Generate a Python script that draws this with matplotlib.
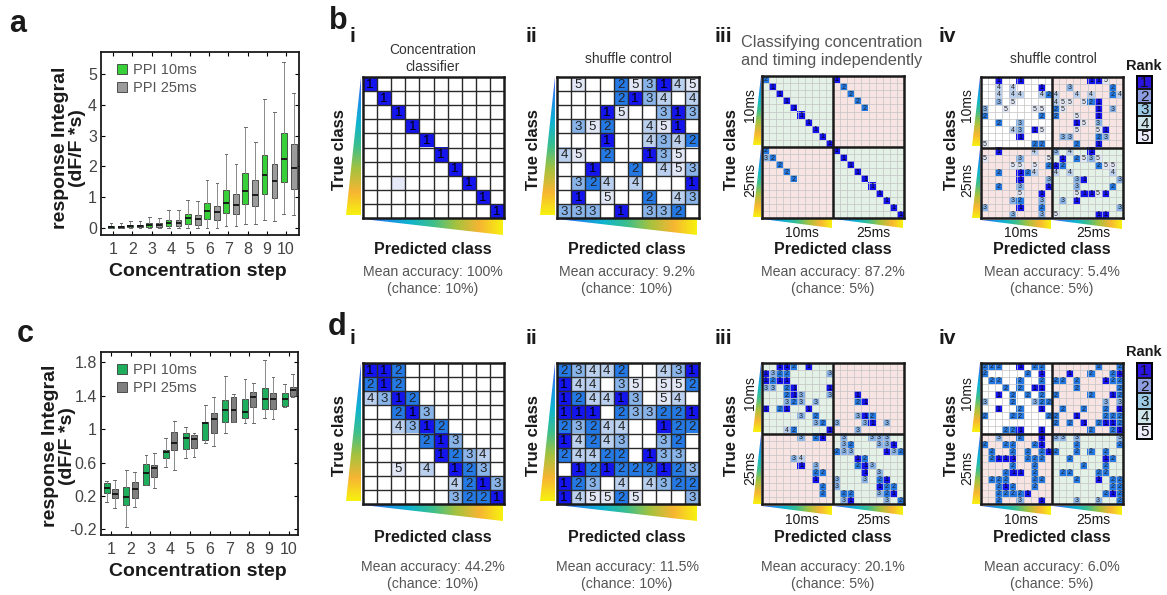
import matplotlib

matplotlib.use("Agg")

import matplotlib.pyplot as plt
import numpy as np
from matplotlib.colors import LinearSegmentedColormap, to_rgb
from matplotlib.patches import Patch, Polygon

plt.rcParams["font.family"] = ["Liberation Sans", "DejaVu Sans"]

W, H = 1167, 595
INK = "#1a1a1a"
MUTED = "#555555"

# ---- response integrals per concentration step (box stats) ----
STEPS = list(range(1, 11))

A10_MED = [0.02, 0.05, 0.08, 0.15, 0.32, 0.54, 0.81, 1.18, 1.72, 2.25]
A10_Q1 = [0.00, 0.01, 0.03, 0.05, 0.13, 0.28, 0.47, 0.77, 1.10, 1.50]
A10_Q3 = [0.05, 0.09, 0.15, 0.25, 0.45, 0.81, 1.23, 1.79, 2.36, 3.07]
A10_LO = [0.00, 0.00, 0.00, 0.00, 0.00, 0.00, 0.05, 0.12, 0.25, 0.45]
A10_HI = [0.14, 0.22, 0.34, 0.57, 0.90, 1.55, 2.40, 3.29, 4.20, 5.40]
A25_MED = [0.02, 0.05, 0.08, 0.15, 0.28, 0.50, 0.73, 1.07, 1.52, 1.93]
A25_Q1 = [0.00, 0.01, 0.03, 0.05, 0.10, 0.25, 0.45, 0.70, 0.95, 1.27]
A25_Q3 = [0.05, 0.08, 0.15, 0.25, 0.42, 0.72, 1.08, 1.55, 2.08, 2.73]
A25_LO = [0.00, 0.00, 0.00, 0.00, 0.00, 0.00, 0.05, 0.12, 0.22, 0.40]
A25_HI = [0.14, 0.22, 0.30, 0.57, 0.88, 1.45, 2.08, 2.80, 3.75, 4.40]

C10_MED = [0.30, 0.19, 0.48, 0.73, 0.90, 1.07, 1.23, 1.21, 1.36, 1.36]
C10_Q1 = [0.24, 0.09, 0.33, 0.65, 0.76, 0.87, 1.09, 1.13, 1.24, 1.28]
C10_Q3 = [0.36, 0.31, 0.58, 0.75, 0.95, 1.09, 1.35, 1.36, 1.49, 1.43]
C10_LO = [0.13, -0.17, 0.33, 0.55, 0.66, 0.83, 0.96, 1.07, 1.14, 1.26]
C10_HI = [0.38, 0.51, 0.69, 0.89, 1.03, 1.29, 1.64, 1.60, 1.83, 1.54]
C25_MED = [0.22, 0.28, 0.53, 0.83, 0.88, 1.12, 1.23, 1.38, 1.36, 1.47]
C25_Q1 = [0.18, 0.17, 0.43, 0.75, 0.77, 0.95, 1.09, 1.27, 1.24, 1.40]
C25_Q3 = [0.28, 0.37, 0.57, 0.97, 0.93, 1.19, 1.38, 1.44, 1.43, 1.51]
C25_LO = [0.05, 0.07, 0.29, 0.51, 0.67, 0.80, 1.09, 1.08, 1.12, 1.38]
C25_HI = [0.39, 0.49, 0.71, 1.10, 0.95, 1.38, 1.42, 1.55, 1.62, 1.66]

# ---- classifier rank matrices (0 = empty, 6 = faint trace without rank) ----
B1_RANKS = [
    [1, 0, 0, 0, 0, 0, 0, 0, 0, 0],
    [0, 1, 0, 0, 0, 0, 0, 0, 0, 0],
    [0, 0, 1, 0, 0, 0, 0, 0, 0, 0],
    [0, 0, 0, 1, 0, 0, 0, 0, 0, 0],
    [0, 0, 0, 0, 1, 0, 0, 0, 0, 0],
    [0, 0, 0, 0, 0, 1, 0, 0, 0, 0],
    [0, 0, 0, 0, 0, 0, 1, 0, 0, 0],
    [0, 0, 6, 0, 0, 0, 0, 1, 0, 0],
    [0, 0, 0, 0, 0, 0, 0, 0, 1, 0],
    [0, 0, 0, 0, 0, 0, 0, 0, 0, 1],
]
B2_RANKS = [
    [0, 5, 0, 0, 2, 5, 3, 1, 4, 5],
    [0, 0, 0, 0, 2, 1, 3, 4, 0, 4],
    [0, 0, 0, 1, 5, 0, 0, 3, 1, 3],
    [0, 3, 5, 2, 0, 0, 4, 5, 1, 0],
    [0, 0, 0, 1, 0, 0, 4, 3, 4, 2],
    [4, 5, 0, 2, 0, 0, 1, 3, 5, 0],
    [0, 0, 1, 0, 0, 2, 0, 4, 5, 3],
    [0, 3, 2, 4, 0, 4, 0, 0, 0, 1],
    [0, 1, 0, 5, 0, 0, 2, 0, 4, 3],
    [3, 3, 3, 0, 1, 0, 3, 3, 2, 0],
]
D1_RANKS = [
    [1, 1, 2, 0, 0, 0, 0, 0, 0, 0],
    [2, 1, 2, 0, 0, 0, 0, 0, 0, 0],
    [4, 3, 1, 2, 0, 0, 0, 0, 0, 0],
    [0, 0, 2, 1, 3, 0, 0, 0, 0, 0],
    [0, 0, 4, 3, 1, 2, 0, 0, 0, 0],
    [0, 0, 0, 0, 2, 1, 3, 0, 0, 0],
    [0, 0, 0, 0, 0, 1, 2, 3, 4, 0],
    [0, 0, 5, 0, 4, 0, 1, 2, 3, 0],
    [0, 0, 0, 0, 0, 0, 4, 2, 1, 3],
    [0, 0, 0, 0, 0, 0, 3, 2, 2, 1],
]
D2_RANKS = [
    [2, 3, 4, 4, 2, 0, 0, 4, 3, 1],
    [1, 4, 4, 0, 3, 5, 0, 5, 5, 2],
    [1, 2, 4, 4, 1, 3, 0, 5, 4, 0],
    [1, 1, 1, 0, 2, 3, 3, 2, 2, 1],
    [2, 3, 2, 4, 4, 0, 0, 1, 2, 2],
    [1, 4, 2, 4, 3, 0, 0, 3, 2, 0],
    [2, 4, 4, 2, 2, 0, 1, 3, 3, 0],
    [0, 1, 2, 1, 2, 2, 2, 1, 2, 3],
    [1, 2, 3, 0, 4, 0, 4, 3, 2, 2],
    [1, 4, 5, 5, 2, 5, 0, 0, 0, 3],
]

# 20 x 20 matrices (10ms block then 25ms block), one "col:rank" list per row
B3_ROWS = [
    "0:2 10:1", "1:1 11:2", "2:1 12:2", "3:1 13:2", "4:1 14:2",
    "5:1", "6:1", "7:1", "8:1", "9:1",
    "0:2 10:1", "0:3 1:2 11:1", "2:2 12:1", "3:2 13:1", "4:2 14:1",
    "15:1", "16:1", "17:1", "18:1", "19:1",
]
B4_ROWS = [
    "2:1 5:1 15:1 16:1 17:5",
    "2:4 4:4 8:1 12:3 18:2",
    "2:4 4:4 5:4 8:4 9:2 10:4 13:4 15:4 18:2 19:4",
    "2:3 4:5 10:4 11:5 12:5 14:5 15:2 16:1",
    "0:3 3:5 7:5 8:5 10:2 11:5 16:1 18:3",
    "0:2 8:2 10:2 13:5 16:1",
    "2:2 5:3 13:1 14:5 16:3",
    "4:4 5:3 7:1 8:5 13:5 16:5 17:1",
    "5:1 11:3 12:3 16:2 17:3",
    "0:5 7:2 8:2 13:2 16:1",
    "2:1 7:4 10:3 12:4 15:1",
    "0:5 5:3 9:5 11:1 13:2 14:5 15:3 16:5",
    "4:5 5:5 7:5 9:2 10:1 11:2 16:2 17:5 18:5",
    "2:2 5:1 6:2 7:4 10:4 12:4 18:4",
    "5:1 9:3 13:3 14:1 19:3",
    "2:2 5:3 9:1 13:3 18:2",
    "5:5 8:1 13:5 14:1 15:1 16:5 17:1",
    "4:3 5:2 8:3 11:3 13:1",
    "0:3 5:1 8:2 19:3",
    "4:3 8:3 10:5 16:1 17:1",
]
D3_ROWS = [
    "2:1 3:1 4:2 6:1",
    "0:1 1:3 2:2 3:2 9:3",
    "0:1 1:2 2:1 3:1",
    "0:3 1:3 3:2 4:1 9:1",
    "3:2 4:1 5:3 9:3 13:1",
    "3:3 4:2 5:3 7:3 13:2 14:1",
    "0:1 2:2 3:1 6:1",
    "5:3 7:2 13:3 14:1 15:2",
    "7:3 8:2 10:3 14:3 15:1 17:3",
    "3:4 4:2 9:1 13:3",
    "5:3 7:2 8:1 11:3 15:3 16:3 17:3",
    "11:3 12:2 16:3 17:3 18:1",
    "10:2 11:3 12:3 17:1 18:3 19:2",
    "4:3 5:4 13:1 14:2",
    "5:1 7:3 13:2 14:1 15:3",
    "7:2 8:2 14:1 16:3",
    "7:1 10:3 14:3 16:2 17:1",
    "8:2 10:3 16:1 17:2 18:2",
    "8:2 11:2 12:2 16:3 17:2 18:1",
    "11:3 12:1 17:3 19:2",
]
D4_ROWS = [
    "0:2 1:2 2:2 5:1 7:2 8:2 16:2 19:2",
    "0:2 6:2 8:1 12:1 15:2 18:2 19:1",
    "1:2 2:2 5:2 8:2 10:2 11:2 13:2 17:1 18:2 19:2",
    "3:2 5:2 7:1 8:1 13:2 19:2",
    "2:1 4:2 6:2 8:2 10:2 15:2 18:1 19:2",
    "0:3 4:2 7:3 8:2 9:2 17:3 19:3",
    "2:1 5:2 8:1 11:2 14:2 17:2 19:1",
    "0:2 4:2 5:2 9:2 10:2 13:1 17:2 18:2 19:2",
    "10:2 12:2 14:1 16:2 17:1 18:1 19:2",
    "3:2 4:2 5:1 8:1 15:2 18:2 19:1",
    "2:3 5:2 8:1 10:3 11:3 13:3 19:3",
    "0:2 3:2 4:2 7:2 8:1 13:2 19:2",
    "1:2 4:2 6:2 8:2 9:1 10:2 13:2 15:2 17:2",
    "1:2 2:1 3:1 4:1 6:2 7:2 8:2 12:2 17:1 18:2",
    "4:2 7:2 14:2 17:2",
    "3:2 4:1 5:1 7:2 11:2 12:2 16:2 17:2",
    "1:2 2:2 3:2 7:2 8:2 13:2 16:1 18:2 19:2",
    "2:2 3:1 4:2 7:2 18:2 19:2",
    "2:2 3:2 4:2 5:2 6:1 17:2 18:1 19:2",
    "2:2 5:3 8:1 13:3 16:3 19:2",
]

CELL_COLORS = {1: "#1414ee", 2: "#2479e4", 3: "#88b4ea", 4: "#bad0ee", 5: "#e2e7f6", 6: "#e6eaf8"}
LEGEND_COLORS = ["#2b14de", "#8e9ddf", "#9ccae4", "#cfe5e9", "#eaeaf8"]
GREEN_BG, PINK_BG, WHITE_BG = "#e4f1e7", "#f9e4e4", "#ffffff"
PARULA = LinearSegmentedColormap.from_list(
    "parula_like",
    ["#4a55f2", "#1f8ee8", "#0fb4cf", "#3cbf8c", "#a6c23e", "#f6b533", "#f8f20f"],
)

fig = plt.figure(figsize=(W / 100, H / 100), dpi=100, facecolor="white")


def frac(x0, y0, x1, y1):
    return [x0 / W, 1 - y1 / H, (x1 - x0) / W, (y1 - y0) / H]


overlay = fig.add_axes([0, 0, 1, 1])
overlay.set_axis_off()


def label(x, y, text, size=10, color=INK, weight="normal", **kw):
    overlay.text(x, y, text, fontsize=size, color=color, fontweight=weight,
                 ha=kw.pop("ha", "center"), va=kw.pop("va", "center"), **kw)


def wedge(x0, y0, x1, y1, vertical):
    if vertical:
        verts = [(x1, y0), (x1, y1), (x0, y1)]
        grad = np.linspace(0, 1, 256)[:, None]
    else:
        verts = [(x0, y0), (x1, y0), (x1, y1)]
        grad = np.linspace(0, 1, 256)[None, :]
    poly = Polygon(verts, closed=True, facecolor="none", edgecolor="none")
    overlay.add_patch(poly)
    im = overlay.imshow(grad, cmap=PARULA, extent=(x0, x1, y1, y0),
                        aspect="auto", interpolation="bilinear")
    im.set_clip_path(poly)


def parse_rows(rows, n=20):
    grid = np.zeros((n, n), dtype=int)
    for r, row in enumerate(rows):
        for item in row.split():
            c, v = item.split(":")
            grid[r, int(c)] = int(v)
    return grid


def rank_grid(box, ranks, quad_bg=None, fontsize=9.5):
    ranks = np.asarray(ranks)
    n = ranks.shape[0]
    ax = fig.add_axes(frac(*box))
    img = np.ones((n, n, 3))
    if quad_bg is not None:
        h = n // 2
        for i in range(2):
            for j in range(2):
                img[i * h:(i + 1) * h, j * h:(j + 1) * h] = to_rgb(quad_bg[i][j])
    for r in range(n):
        for c in range(n):
            if ranks[r, c]:
                img[r, c] = to_rgb(CELL_COLORS[ranks[r, c]])
    ax.imshow(img, extent=(0, n, n, 0), interpolation="nearest", aspect="auto")
    if quad_bg is None:
        ax.vlines(range(1, n), 0, n, color="#2a2a2a", linewidth=1.0)
        ax.hlines(range(1, n), 0, n, color="#2a2a2a", linewidth=1.0)
    else:
        ax.vlines(range(1, n), 0, n, color="#c4c4c4", linewidth=0.5)
        ax.hlines(range(1, n), 0, n, color="#c4c4c4", linewidth=0.5)
        ax.vlines([n // 2], 0, n, color="#1a1a1a", linewidth=1.8)
        ax.hlines([n // 2], 0, n, color="#1a1a1a", linewidth=1.8)
    for r in range(n):
        for c in range(n):
            v = ranks[r, c]
            if 1 <= v <= 5:
                ax.text(c + 0.5, r + 0.55, str(v), ha="center", va="center",
                        fontsize=fontsize, color="#000000" if v == 1 else "#222222")
    ax.set_xlim(0, n)
    ax.set_ylim(n, 0)
    ax.set_xticks([])
    ax.set_yticks([])
    for spine in ax.spines.values():
        spine.set_linewidth(1.8)
        spine.set_color("#1a1a1a")
    return ax


def rank_legend(box):
    ax = fig.add_axes(frac(*box))
    img = np.array([[to_rgb(c)] for c in LEGEND_COLORS])
    ax.imshow(img, extent=(0, 1, 5, 0), aspect="auto", interpolation="nearest")
    ax.hlines(range(1, 5), 0, 1, color="#1a1a1a", linewidth=1.4)
    for k in range(5):
        ax.text(0.5, k + 0.55, str(k + 1), ha="center", va="center",
                fontsize=11, color="#111111")
    ax.set_xlim(0, 1)
    ax.set_ylim(5, 0)
    ax.set_xticks([])
    ax.set_yticks([])
    for spine in ax.spines.values():
        spine.set_linewidth(1.4)


def box_panel(box, ten, twenty, colors, offsets, xlim, ylim, yticks, yticklabels):
    ax = fig.add_axes(frac(*box))
    for stats_src, color, off in zip((ten, twenty), colors, offsets):
        med, q1, q3, lo, hi = stats_src
        stats = [
            {"med": m, "q1": a, "q3": b, "whislo": l, "whishi": u}
            for m, a, b, l, u in zip(med, q1, q3, lo, hi)
        ]
        ax.bxp(
            stats,
            positions=[s + off for s in STEPS],
            widths=0.3,
            capwidths=0.14,
            showfliers=False,
            patch_artist=True,
            boxprops={"facecolor": color, "edgecolor": "#3a3a3a", "linewidth": 0.6},
            medianprops={"color": "#111111", "linewidth": 1.3},
            whiskerprops={"color": "#8a8a8a", "linewidth": 0.7},
            capprops={"color": "#6a6a6a", "linewidth": 0.7},
        )
    ax.set_xlim(*xlim)
    ax.set_ylim(*ylim)
    ax.set_xticks(STEPS)
    ax.set_xticklabels([str(s) for s in STEPS])
    ax.set_yticks(yticks)
    ax.set_yticklabels(yticklabels)
    ax.tick_params(direction="in", length=3, width=0.8, labelsize=11.5,
                   labelcolor="#444444", top=True, right=True)
    ax.tick_params(axis="x", pad=5)
    ax.tick_params(axis="y", pad=3)
    for spine in ax.spines.values():
        spine.set_linewidth(1.3)
        spine.set_color("#1a1a1a")
    handles = [
        Patch(facecolor=colors[0], edgecolor="#3a3a3a", linewidth=0.6, label="PPI 10ms"),
        Patch(facecolor=colors[1], edgecolor="#3a3a3a", linewidth=0.6, label="PPI 25ms"),
    ]
    ax.legend(handles=handles, loc="upper left", bbox_to_anchor=(0.05, 0.97),
              frameon=False, fontsize=10.5, handlelength=0.7, handleheight=0.7,
              handletextpad=0.4, labelspacing=0.25, borderaxespad=0,
              labelcolor="#555555")
    return ax


# ---- panel a / c: box plots ----
box_panel(
    (101, 52, 299, 235),
    (A10_MED, A10_Q1, A10_Q3, A10_LO, A10_HI),
    (A25_MED, A25_Q1, A25_Q3, A25_LO, A25_HI),
    ("#38d038", "#9b9b9b"), (-0.12, 0.4),
    (0.36, 10.68), (-0.24, 5.72), [0, 1, 2, 3, 4, 5], ["0", "1", "2", "3", "4", "5"],
)
box_panel(
    (101, 352, 298, 535),
    (C10_MED, C10_Q1, C10_Q3, C10_LO, C10_HI),
    (C25_MED, C25_Q1, C25_Q3, C25_LO, C25_HI),
    ("#1fae5c", "#7f7f7f"), (-0.22, 0.2),
    (0.5, 10.46), (-0.268, 1.925),
    [-0.2, 0.2, 0.6, 1.0, 1.4, 1.8], ["-0.2", "0.2", "0.6", "1", "1.4", "1.8"],
)
label(69, 148, "response Integral\n(dF/F *s)", size=14, weight="bold",
      rotation=90, linespacing=1.05)
label(59, 446, "response Integral\n(dF/F *s)", size=14, weight="bold",
      rotation=90, linespacing=1.0)
label(198, 272, "Concentration step", size=14, weight="bold")
label(198, 571, "Concentration step", size=14, weight="bold")
label(18, 24, "a", size=22, weight="bold")
label(25, 334, "c", size=22, weight="bold")

# ---- panels b / d: rank matrices ----
DIAG_BG = [[GREEN_BG, PINK_BG], [PINK_BG, GREEN_BG]]
SHUF_BG = [[WHITE_BG, PINK_BG], [PINK_BG, GREEN_BG]]

rank_grid((363, 77, 504, 218), B1_RANKS)
rank_grid((557, 77, 699, 218), B2_RANKS)
rank_grid((762, 76, 904, 218), parse_rows(B3_ROWS), DIAG_BG, fontsize=5)
rank_grid((981, 77, 1123, 218), parse_rows(B4_ROWS), SHUF_BG, fontsize=5)
rank_grid((363, 363, 504, 504), D1_RANKS)
rank_grid((557, 363, 699, 504), D2_RANKS)
rank_grid((762, 363, 904, 504), parse_rows(D3_ROWS), DIAG_BG, fontsize=5)
rank_grid((981, 363, 1123, 504), parse_rows(D4_ROWS), SHUF_BG, fontsize=5)
rank_legend((1137, 76, 1152, 143))
rank_legend((1137, 363, 1152, 439))
label(1144, 66, "Rank", size=10.5, weight="bold")
label(1144, 352, "Rank", size=10.5, weight="bold")

# colour wedges along the true / predicted axes
for top, gx0, gx1 in ((77, 363, 504), (363, 363, 504)):
    wedge(346, top, 361, top + 138, vertical=True)
    wedge(gx0, top + 142, gx1 - 1, top + 158, vertical=False)
for top, gx0 in ((77, 557), (363, 557)):
    wedge(540, top, 555, top + 138, vertical=True)
    wedge(gx0, top + 142, gx0 + 140, top + 158, vertical=False)
for top, left in ((76, 762), (363, 762), (77, 981), (363, 981)):
    wedge(left - 9, top, left - 1, top + 69, vertical=True)
    wedge(left - 9, top + 72, left - 1, top + 141, vertical=True)
    wedge(left, top + 143, left + 70, top + 152, vertical=False)
    wedge(left + 72, top + 143, left + 141, top + 152, vertical=False)

# titles
label(433, 50, "Concentration", size=10, color="#333333")
label(433, 67, "classifier", size=10, color="#333333")
label(628, 59, "shuffle control", size=10, color="#333333")
label(832, 42, "Classifying concentration", size=11.7, color=MUTED)
label(832, 60, "and timing independently", size=11.7, color=MUTED)
label(1053, 59, "shuffle control", size=10, color="#333333")

# panel letters
label(338, 21, "b", size=22, weight="bold")
label(337, 327, "d", size=22, weight="bold")
for y in (36, 338):
    label(352, y, "i", size=15, weight="bold")
    label(531, y, "ii", size=15, weight="bold")
    label(723, y, "iii", size=15, weight="bold")
    label(947, y, "iv", size=15, weight="bold")

# axis labels
TRUE_X = (340, 534, 731, 952)
PRED_X = (433, 627, 833, 1052)
for row, (ytrue, ypred) in enumerate(((150, 249), (436, 537))):
    for x in TRUE_X:
        label(x, ytrue, "True class", size=12, weight="bold", rotation=90)
    for x in PRED_X:
        label(x, ypred, "Predicted class", size=11.5, weight="bold")

for xt, xs in ((750, (802, 873)), (967, (1021, 1093))):
    for y10, y25 in ((105, 180), (393, 468)):
        label(xt, y10, "10ms", size=10, rotation=90)
        label(xt, y25, "25ms", size=10, rotation=90)
    for y in (233, 520):
        label(xs[0], y, "10ms", size=10)
        label(xs[1], y, "25ms", size=10)

# accuracy read-outs
ACCURACY_B = ["100%", "9.2%", "87.2%", "5.4%"]
ACCURACY_D = ["44.2%", "11.5%", "20.1%", "6.0%"]
CHANCE = ["10%", "10%", "5%", "5%"]
for accs, y0 in ((ACCURACY_B, 272), (ACCURACY_D, 567)):
    for x, acc, ch in zip(PRED_X, accs, CHANCE):
        label(x, y0, f"Mean accuracy: {acc}", size=10.2, color=MUTED)
        label(x, y0 + 17, f"(chance: {ch})", size=10.2, color=MUTED)

overlay.set_xlim(0, W)
overlay.set_ylim(H, 0)

fig.savefig("out.png", dpi=100, facecolor="white")
